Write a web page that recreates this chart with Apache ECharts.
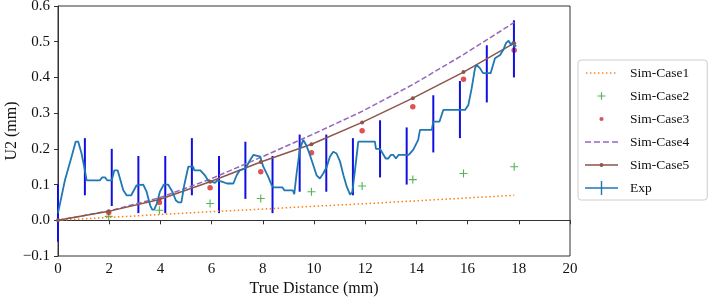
<!DOCTYPE html>
<html>
<head>
<meta charset="utf-8">
<script src="https://cdn.jsdelivr.net/npm/echarts/dist/echarts.min.js"></script>
<style>
  html, body { margin: 0; padding: 0; background: #fff; }
  #chart { width: 708px; height: 299px; }
</style>
</head>
<body>
<div id="chart"></div>
<script>
// simulation sample positions (mm)
const simX = [0, 1.98, 3.96, 5.94, 7.92, 9.9, 11.88, 13.86, 15.84, 17.82];
const simCase1 = [0, 0.008, 0.016, 0.024, 0.031, 0.039, 0.046, 0.054, 0.062, 0.07];
const simCase2 = [null, 0.011, 0.028, 0.047, 0.061, 0.08, 0.096, 0.114, 0.131, 0.15];
const simCase3 = [null, 0.022, 0.05, 0.091, 0.136, 0.189, 0.251, 0.318, 0.395, 0.476];
const simCase4 = [0, 0.026, 0.063, 0.115, 0.176, 0.239, 0.305, 0.38, 0.464, 0.554];
const simCase5 = [0, 0.025, 0.058, 0.108, 0.163, 0.213, 0.274, 0.342, 0.415, 0.496];

// measured curve
const expX = [0, 0.27, 0.53, 0.69, 0.79, 0.92, 1.05, 1.12, 1.64, 1.72, 1.84, 1.92, 2.1, 2.2, 2.33,
  2.55, 2.68, 2.86, 3.07, 3.14, 3.33, 3.46, 3.6, 3.68, 3.76, 3.86, 3.98, 4.13, 4.3, 4.47, 4.6,
  4.7, 4.82, 4.93, 5.09, 5.28, 5.32, 5.56, 5.74, 5.87, 6.0, 6.13, 6.23, 6.4, 6.6, 6.85, 6.98,
  7.1, 7.32, 7.5, 7.63, 7.9, 8.02, 8.21, 8.35, 8.42, 8.77, 8.84, 9.17, 9.23, 9.32, 9.45, 9.58,
  9.7, 9.84, 9.97, 10.1, 10.23, 10.36, 10.5, 10.62, 10.75, 10.88, 11.02, 11.15, 11.28, 11.41,
  11.5, 11.6, 11.73, 12.38, 12.42, 12.58, 12.8, 12.9, 13.0, 13.1, 13.2, 13.3, 13.7, 13.88,
  14.07, 14.14, 14.6, 14.66, 14.9, 15.05, 15.9, 16.03, 16.16, 16.29, 16.35, 16.48, 16.6, 16.9,
  17.07, 17.27, 17.4, 17.5, 17.6, 17.7, 17.77, 17.83, 17.9];
const expY = [0.02, 0.112, 0.178, 0.22, 0.22, 0.187, 0.14, 0.112, 0.112, 0.12, 0.12, 0.112, 0.112, 0.14, 0.14,
  0.084, 0.07, 0.07, 0.098, 0.1, 0.1, 0.08, 0.042, 0.03, 0.03, 0.047, 0.08, 0.1, 0.1, 0.08, 0.056,
  0.05, 0.05, 0.098, 0.15, 0.15, 0.14, 0.14, 0.126, 0.11, 0.108, 0.105, 0.112, 0.108, 0.103, 0.103, 0.126,
  0.14, 0.145, 0.168, 0.183, 0.178, 0.15, 0.122, 0.098, 0.092, 0.092, 0.084, 0.084, 0.073, 0.131, 0.2, 0.225,
  0.21, 0.183, 0.155, 0.126, 0.117, 0.131, 0.15, 0.178, 0.192, 0.187, 0.164, 0.126, 0.094, 0.072,
  0.08, 0.14, 0.22, 0.22, 0.2, 0.2, 0.173, 0.173, 0.183, 0.183, 0.173, 0.183, 0.183, 0.198,
  0.225, 0.253, 0.253, 0.276, 0.276, 0.309, 0.309, 0.323, 0.37, 0.426, 0.435, 0.426, 0.412, 0.412,
  0.454, 0.463, 0.478, 0.496, 0.503, 0.49, 0.5, 0.486, 0.49];

// error bars on the measured curve
const barX = [0, 1.05, 2.1, 3.14, 4.19, 5.23, 6.29, 7.32, 8.38, 9.44, 10.48, 11.52, 12.58, 13.62, 14.66, 15.7, 16.75, 17.81];
const barY = [0.02, 0.15, 0.12, 0.1, 0.1, 0.15, 0.1, 0.14, 0.1, 0.16, 0.16, 0.15, 0.2, 0.18, 0.27, 0.31, 0.41, 0.48];
const barErr = 0.08;

const pairs = (xs, ys) => xs.map((x, i) => [x, ys[i]]);
const serif = 'Liberation Serif';
const plus = 'path://M4.3,0H5.7V4.3H10V5.7H5.7V10H4.3V5.7H0V4.3H4.3Z';

// legend icons, all in a 33x14 box (the M0,0M33,14 pins the box)
const box = 'path://M0,0M33,14';
let dots = '';
for (let x = 1; x < 33; x += 4) dots += `M${x},6.3h1.4v1.4h-1.4Z`;
const iconDotted = box + dots;
const iconPlus = box + 'M15.9,3.3H17.1V6.4H20.5V7.6H17.1V10.7H15.9V7.6H12.5V6.4H15.9Z';
const iconDot = box + 'M16.5,4.9A2.1,2.1,0,1,1,16.5,9.1A2.1,2.1,0,1,1,16.5,4.9Z';
const iconDashed = box + 'M0,6.3h6v1.4h-6ZM9,6.3h6v1.4h-6ZM18,6.3h6v1.4h-6ZM27,6.3h6v1.4h-6Z';
const iconLineDot = box + 'M0,6.3H33V7.7H0ZM16.5,5A2,2,0,1,1,16.5,9A2,2,0,1,1,16.5,5Z';
const iconExp = box + 'M0,6.2H15.8V0H17.2V6.2H33V7.8H17.2V14H15.8V7.8H0Z';

const chart = echarts.init(document.getElementById('chart'));
chart.setOption({
  animation: false,
  textStyle: { fontFamily: serif, color: '#111' },
  grid: {
    left: 58, right: 138, top: 6, bottom: 43,
    outerBoundsMode: 'none', containLabel: false,
    show: true, borderColor: '#333', borderWidth: 1
  },
  legend: {
    orient: 'vertical',
    left: 578, top: 60,
    padding: [6, 18, 5, 7],
    itemWidth: 33, itemHeight: 14, itemGap: 9,
    backgroundColor: '#fff',
    borderColor: '#ccc', borderWidth: 1, borderRadius: 3,
    textStyle: { fontFamily: serif, fontSize: 13.5, color: '#111', padding: [0, 0, 0, 7] },
    data: [
      { name: 'Sim-Case1', icon: iconDotted },
      { name: 'Sim-Case2', icon: iconPlus },
      { name: 'Sim-Case3', icon: iconDot },
      { name: 'Sim-Case4', icon: iconDashed },
      { name: 'Sim-Case5', icon: iconLineDot },
      { name: 'Exp', icon: iconExp }
    ]
  },
  xAxis: {
    type: 'value', min: 0, max: 20, interval: 2,
    name: 'True Distance (mm)', nameLocation: 'middle', nameGap: 25, nameMoveOverlap: false,
    nameTextStyle: { fontFamily: serif, fontSize: 16, color: '#111' },
    axisLine: { lineStyle: { color: '#333' } },
    axisTick: { length: 4, lineStyle: { color: '#333' } },
    axisLabel: { fontFamily: serif, fontSize: 15, color: '#111', margin: 6 },
    splitLine: { show: false }
  },
  yAxis: {
    type: 'value', min: -0.1, max: 0.6, interval: 0.1,
    name: 'U2 (mm)', nameLocation: 'middle', nameGap: 38, nameMoveOverlap: false,
    nameTextStyle: { fontFamily: serif, fontSize: 16, color: '#111' },
    axisLine: { show: true, lineStyle: { color: '#333' } },
    axisTick: { show: true, length: 4, lineStyle: { color: '#333' } },
    axisLabel: {
      fontFamily: serif, fontSize: 15, color: '#111', margin: 8,
      formatter: v => v.toFixed(1).replace('-', '\u2212')
    },
    splitLine: { show: false }
  },
  series: [
    {
      name: 'Sim-Case1', type: 'line', data: pairs(simX, simCase1),
      symbol: 'none', color: '#ff7f0e',
      lineStyle: { width: 1.5, type: [1.5, 2.5] }
    },
    {
      name: 'Sim-Case2', type: 'scatter', data: pairs(simX, simCase2),
      symbol: plus, symbolSize: 8, color: '#2ca02c'
    },
    {
      name: 'Sim-Case3', type: 'scatter', data: pairs(simX, simCase3),
      symbol: 'circle', symbolSize: 5.5, color: '#d62728'
    },
    {
      name: 'Sim-Case4', type: 'line', data: pairs(simX, simCase4),
      symbol: 'none', color: '#9467bd',
      lineStyle: { width: 1.5, type: [5.5, 2.5] }
    },
    {
      name: 'Sim-Case5', type: 'line', data: pairs(simX, simCase5),
      symbol: 'circle', symbolSize: 4, showSymbol: true, color: '#8c564b',
      lineStyle: { width: 1.5 }
    },
    {
      name: 'Exp', type: 'line', data: pairs(expX, expY),
      symbol: 'none', color: '#1f77b4',
      lineStyle: { width: 1.8 }
    },
    {
      name: 'Exp', type: 'custom',
      data: barX.map((x, i) => [x, barY[i] - barErr, barY[i] + barErr]),
      renderItem: (params, api) => {
        const p1 = api.coord([api.value(0), api.value(1)]);
        const p2 = api.coord([api.value(0), api.value(2)]);
        return {
          type: 'line',
          shape: { x1: p1[0], y1: p1[1], x2: p2[0], y2: p2[1] },
          style: { stroke: '#1010e0', lineWidth: 2 }
        };
      },
      encode: { x: 0, y: [1, 2] },
      z: 3
    }
  ]
});
</script>
</body>
</html>
